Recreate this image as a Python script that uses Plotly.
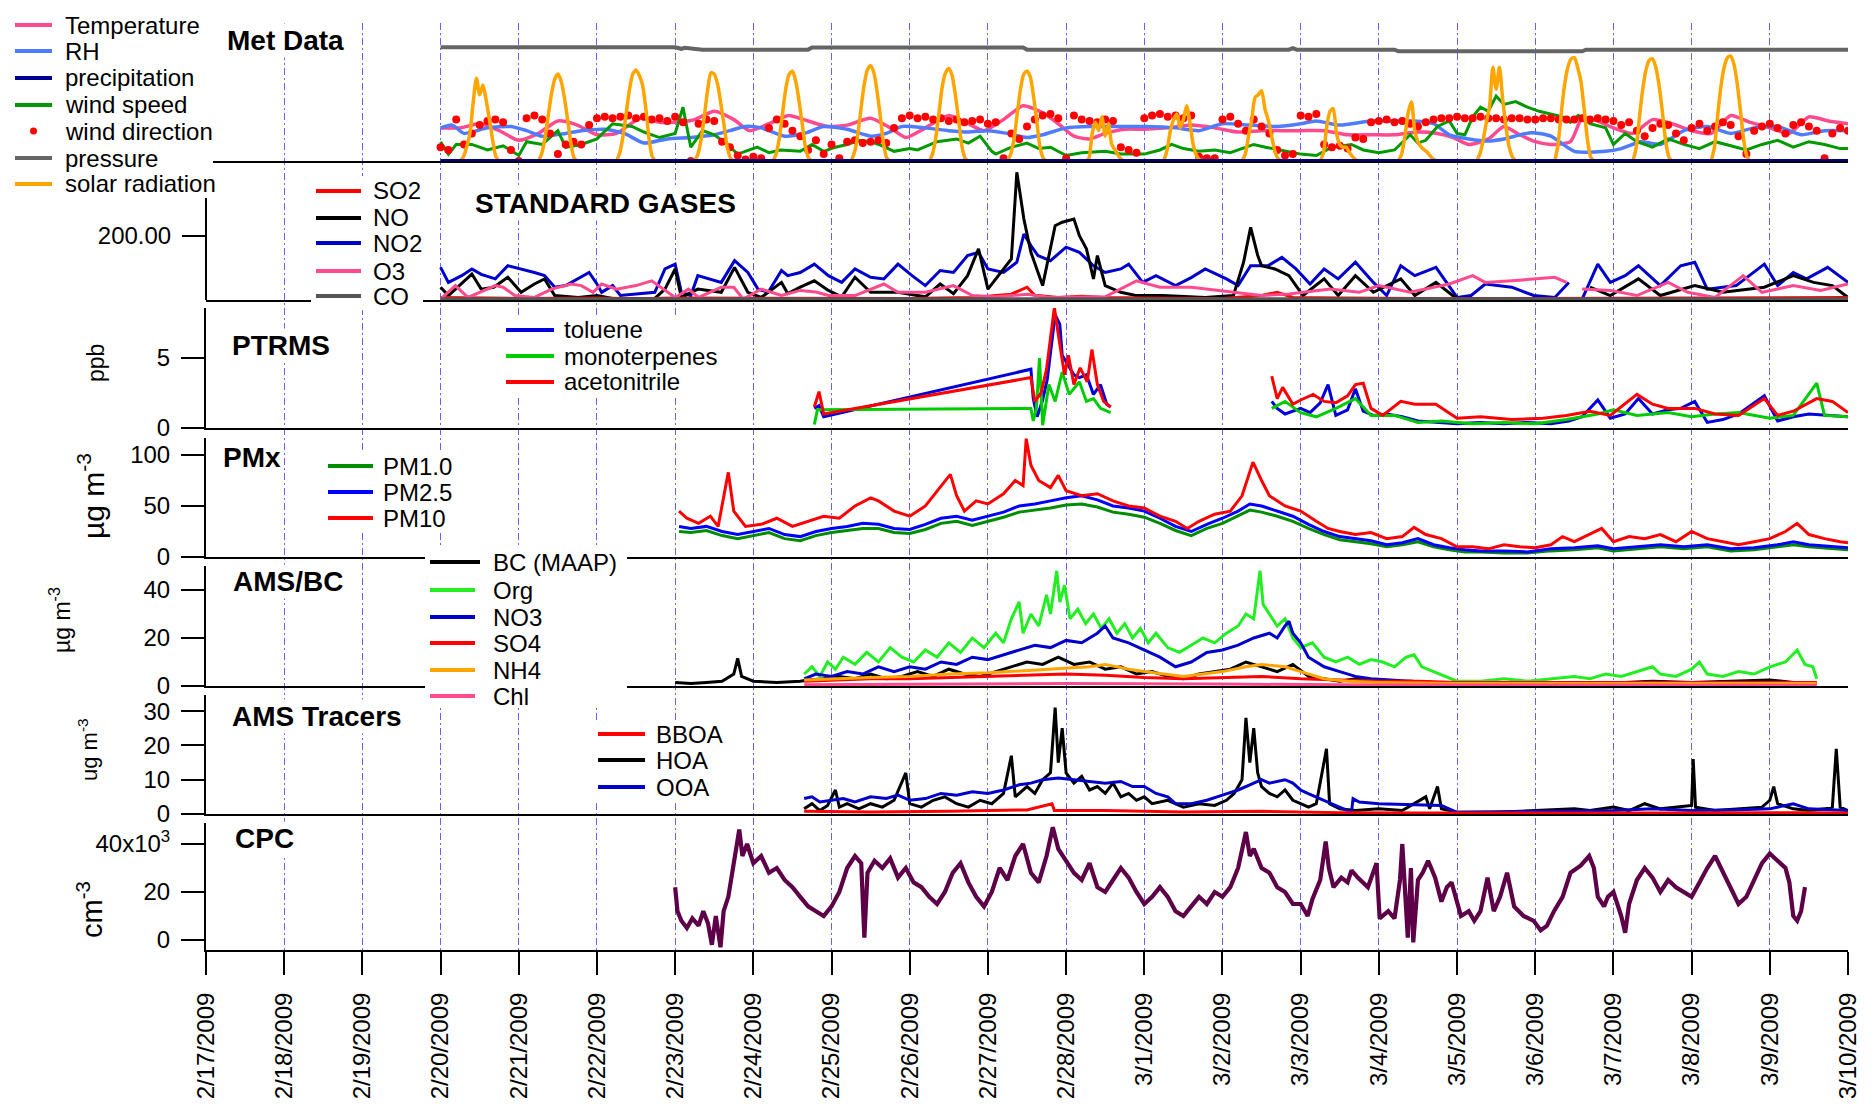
import pandas as pd
import plotly.graph_objects as go

W, H = 1874, 1113
BASE = pd.Timestamp("2009-02-17")
FONT = "Liberation Sans, Arial, sans-serif"

# ---------------- data: (day offset from 2/17/2009 00:00, value) ----------------
# Met Data panel (relative panel units 0-100)
temperature = [(3.0,24),(3.25,24),(3.5,27),(3.75,22),(4.0,15),(4.25,20),(4.5,29),(4.75,26),(5.0,19),(5.25,20),
    (5.55,31),(5.8,28),(6.0,28),(6.25,30),(6.5,36),(6.75,30),(6.95,22),(7.2,27),(7.45,33),(7.7,29),(7.95,25),
    (8.2,26),(8.5,31),(8.75,24),(8.95,17),(9.2,24),(9.5,33),(9.75,27),(9.95,22),(10.2,30),(10.45,40),(10.7,35),
    (10.9,27),(11.1,18),(11.3,16),(11.5,20),(11.75,23),(12.0,23),(12.3,24),(12.6,26),(12.9,24),(13.2,21),
    (13.5,22),(13.75,22),(14.0,22),(14.3,22),(14.6,19),(14.9,19),(15.2,19),(15.5,21),(15.75,20),(15.95,17),
    (16.15,12),(16.4,16),(16.6,25),(16.8,19),(17.0,14),(17.2,12),(17.45,14),(17.6,31),(17.8,29),(18.0,24),
    (18.25,20),(18.5,30),(18.75,27),(19.0,22),(19.25,20),(19.5,33),(19.75,28),(20.0,24),(20.25,20),(20.5,32),
    (20.75,29),(21.0,27)]
rh = [(3.0,24),(3.15,26),(3.3,20),(3.6,24),(3.9,25),(4.1,22),(4.3,18),(4.6,20),(4.8,22),(5.1,23),(5.35,20),
    (5.6,13),(5.9,16),(6.2,17),(6.5,19),(6.7,22),(6.9,25),(7.1,24),(7.4,18),(7.65,20),(7.9,25),(8.2,23),(8.5,18),
    (8.7,20),(8.9,25),(9.2,24),(9.5,22),(9.75,21),(10.0,22),(10.25,20),(10.5,17),(10.7,19),(11.0,24),(11.3,25),
    (11.7,25),(12.0,25),(12.4,24),(12.7,22),(13.0,27),(13.35,26),(13.7,25),(14.0,27),(14.2,29),(14.5,26),
    (14.9,29),(15.2,29),(15.45,29),(15.7,27),(15.9,19),(16.15,16),(16.4,14.5),(16.6,16),(16.95,20.5),(17.2,18),
    (17.5,7),(17.9,7),(18.1,9),(18.35,14),(18.6,12),(18.9,22),(19.2,25),(19.5,20),(19.8,24),(20.1,25),(20.4,19),
    (20.7,22),(21.0,22)]
precipitation = [(3,0),(6,0),(9,0),(12,0),(15,0),(18,0),(21,0)]
wind_speed = [(3.0,14),(3.1,5),(3.2,12),(3.4,12),(3.6,8),(3.8,11),(4.0,4),(4.1,14),(4.3,12),(4.5,22),(4.6,10),
    (4.8,12),(5.0,16),(5.2,27),(5.45,25),(5.6,21),(5.8,17),(6.0,20),(6.1,39),(6.2,10),(6.35,22),(6.5,19),(6.65,13),
    (6.8,5),(7.05,10),(7.2,6),(7.35,8),(7.6,7),(7.75,12),(7.9,7),(8.05,10),(8.2,12),(8.35,15),(8.5,14),(8.65,11),
    (8.8,7),(9.0,9),(9.1,8),(9.35,14),(9.6,16),(9.75,13),(9.9,18),(10.05,7),(10.1,5),(10.3,10),(10.5,13),
    (10.65,9),(10.8,10),(11.0,4),(11.2,6),(11.5,7),(11.7,5),(12.0,5),(12.2,8),(12.35,12),(12.5,9),(12.7,7),
    (12.9,8),(13.1,6),(13.25,9),(13.4,12),(13.55,10),(13.8,7),(14.0,5),(14.2,4),(14.4,10),(14.65,12),(14.8,8),
    (15.0,6),(15.2,8),(15.4,19),(15.5,13),(15.6,15),(15.75,25),(15.9,29),(16.0,20),(16.1,19),(16.2,32),(16.3,39),
    (16.4,36),(16.5,47),(16.6,41),(16.75,43),(16.9,39),(17.05,36),(17.2,34),(17.35,32),(17.45,28),(17.55,33),
    (17.7,27),(17.9,24),(18.0,12),(18.15,20),(18.3,14),(18.5,10),(18.7,16),(18.9,12),(19.1,9),(19.3,14),
    (19.5,11),(19.7,8),(19.9,12),(20.1,15),(20.3,10),(20.5,14),(20.7,12),(20.9,9),(21.0,9)]
# wind direction, one reading every 0.1 day starting 2/20 00:00
wind_dir_start = 3.0
wind_direction = [10,8,30,12,20,26,29,30,28,8, 0,31,33,30,20,5,12,14,12,26, 31,32,31,32,33,31,32,30,31,29,
    32,28,0,27,30,29,14,10,4,1, 3,2,24,30,27,22,18,8,15,5, 12,2,14,15,13,14,15,13,24,31, 33,31,32,30,31,29,30,28,29,30,
    27,28,2,20,16,25,30,33,34,31, 2,33,30,29,28,30,29,10,8,6, 31,33,34,32,33,31,33,3,2,2, 30,32,27,22,30,25,20,8,4,5,
    33,32,34,12,10,11,9,17,16,28, 29,30,28,29,27,25,28,30,31,31, 32,31,31,32,31,31,30,31,31,30, 30,31,31,30,30,30,31,30,31,30,
    29,26,28,22,18,24,27,26,20,15, 24,27,22,25,28,26,18,5,22,25, 27,24,20,26,28,25,22,2,20,24, 22]
pressure = [(3.0,82.4),(6.0,82.4),(6.08,81.3),(6.12,82.0),(6.35,80.7),(7.7,80.7),(7.75,82.2),(10.45,82.2),
    (10.5,80.7),(13.85,80.7),(13.9,81.8),(13.95,80.7),(15.2,80.7),(15.25,79.5),(17.6,79.5),(17.65,80.7),(21.0,80.7)]
# solar radiation, hourly 06:00-18:00 for each day from 2/20 to 3/8
solar_first_day = 3
solar_radiation = [
    [0,3,10,20,42,60,48,55,44,30,15,3,0],
    [0,5,16,32,48,59,63,58,46,30,13,2,0],
    [0,6,18,35,52,63,66,62,55,38,16,3,0],
    [0,5,16,33,52,64,63,56,42,26,10,2,0],
    [0,5,17,35,53,63,65,58,44,27,10,2,0],
    [0,6,18,37,55,66,69,64,50,32,12,2,0],
    [0,5,17,35,54,64,67,62,48,30,11,2,0],
    [0,5,16,34,52,63,65,61,47,29,10,2,0],
    [0,2,20,28,22,32,18,27,12,8,4,1,0],
    [0,8,22,30,34,24,30,40,28,12,4,1,0],
    [0,5,18,30,46,48,51,38,30,19,8,2,0],
    [0,6,25,36,38,20,12,10,10,6,3,1,0],
    [0,5,18,35,43,22,14,10,8,6,3,1,0],
    [0,5,15,28,40,68,52,68,45,25,10,3,0],
    [0,12,35,55,68,74,75,68,58,38,16,3,0],
    [0,10,32,52,66,73,74,68,55,36,15,3,0],
    [0,10,33,54,68,75,76,70,56,36,15,3,0]]

# Standard gases (ppb)
so2 = [(3.0,8),(4.0,5),(5.0,6),(5.5,4),(6.0,6),(7.0,5),(8.0,6),(9.0,5),(9.8,8),(10.3,18),(10.5,40),(10.6,15),
    (10.9,8),(11.2,12),(11.5,8),(12.0,6),(13.0,5),(13.5,14),(13.7,24),(13.9,8),(14.5,6),(15.0,5),(16.0,4),
    (17.0,5),(18.0,6),(19.0,5),(20.0,6),(21.0,8)]
no = [(3.0,40),(3.1,14),(3.4,81),(3.52,34),(3.68,40),(3.86,71),(4.03,24),(4.2,50),(4.33,66),(4.46,14),(4.76,8),
    (5.0,14),(5.2,5),(5.5,5),(5.74,5),(5.87,34),(6.0,97),(6.08,8),(6.29,34),(6.59,24),(6.76,102),(6.93,24),
    (7.1,8),(7.36,55),(7.44,20),(7.6,40),(7.78,60),(7.96,30),(8.13,10),(8.3,71),(8.5,24),(8.85,24),(9.2,10),
    (9.39,50),(9.56,20),(9.74,76),(9.88,160),(10.0,34),(10.2,97),(10.3,128),(10.37,399),(10.46,253),(10.55,149),
    (10.7,45),(10.86,232),(10.95,243),(11.1,253),(11.17,201),(11.26,160),(11.35,66),(11.4,139),(11.5,45),
    (11.7,24),(11.89,14),(12.24,14),(12.78,8),(13.14,14),(13.27,118),(13.36,227),(13.45,140),(13.5,107),
    (13.67,97),(13.85,76),(14.03,14),(14.3,66),(14.48,14),(14.7,76),(14.93,24),(15.28,66),(15.46,14),(15.73,55),
    (16.0,3),(16.5,5),(17.0,5),(17.4,5),(17.5,None),(17.7,40),(17.96,14),(18.32,66),(18.6,14),(19.04,45),
    (19.4,24),(19.93,40),(20.3,76),(20.56,55),(20.8,45),(21.0,8)]
no2 = [(3.0,102),(3.1,55),(3.27,76),(3.4,97),(3.52,80),(3.7,66),(3.86,107),(4.03,97),(4.2,86),(4.33,76),(4.46,40),
    (4.6,45),(4.76,66),(4.9,86),(5.0,50),(5.06,24),(5.2,45),(5.3,14),(5.5,19),(5.74,24),(5.87,97),(6.0,112),
    (6.08,24),(6.2,14),(6.29,76),(6.42,66),(6.59,55),(6.76,123),(6.93,86),(7.06,34),(7.19,24),(7.36,92),(7.44,76),
    (7.6,86),(7.78,112),(7.96,76),(8.13,55),(8.3,97),(8.5,71),(8.67,66),(8.85,112),(9.03,76),(9.2,45),(9.39,92),
    (9.56,86),(9.74,139),(9.88,149),(10.0,97),(10.2,86),(10.37,118),(10.46,206),(10.55,170),(10.64,139),
    (10.8,123),(11.0,165),(11.17,149),(11.35,107),(11.5,86),(11.7,97),(11.8,112),(11.98,55),(12.15,76),(12.4,45),
    (12.6,70),(12.78,97),(13.05,66),(13.2,45),(13.36,107),(13.58,107),(13.76,133),(13.94,97),(14.12,50),(14.3,97),
    (14.48,66),(14.7,118),(14.93,55),(15.1,14),(15.28,107),(15.46,76),(15.73,102),(16.0,8),(16.18,14),(16.36,50),
    (16.7,40),(16.98,14),(17.25,8),(17.43,55),(17.5,None),(17.56,5),(17.6,3),(17.8,112),(17.96,55),(18.15,76),
    (18.32,107),(18.6,45),(18.86,107),(19.04,118),(19.2,34),(19.57,45),(19.93,112),(20.1,45),(20.3,86),
    (20.47,66),(20.74,102),(21.0,55)]
o3 = [(3.0,3),(3.19,45),(3.35,8),(3.5,24),(3.7,45),(3.8,40),(3.95,14),(4.2,8),(4.42,34),(4.67,50),(4.8,45),
    (4.95,24),(5.06,50),(5.25,34),(5.5,45),(5.7,60),(5.85,34),(6.0,8),(6.17,34),(6.3,8),(6.59,40),(6.75,40),
    (6.87,3),(7.1,34),(7.36,14),(7.5,24),(7.6,30),(7.8,25),(7.96,14),(8.3,14),(8.67,50),(8.85,24),(9.2,24),
    (9.56,45),(9.8,14),(10.1,10),(10.5,18),(10.8,8),(11.5,10),(11.9,60),(12.2,40),(12.6,40),(12.96,30),(13.5,14),
    (13.85,19),(14.38,34),(14.75,24),(15.0,45),(15.4,24),(15.9,50),(16.2,76),(16.36,55),(16.7,60),(17.06,68),
    (17.25,71),(17.4,55),(17.5,None),(17.6,34),(17.96,30),(18.3,14),(18.7,55),(18.95,24),(19.3,8),(19.66,76),
    (19.9,24),(20.3,45),(20.65,30),(21.0,50)]
co = [(3,2),(7,2),(11,2),(15,2),(19,2),(21,2)]

# PTRMS (ppb)
toluene = [(7.78,1.4),(7.84,1.6),(7.9,0.8),(10.55,4.2),(10.58,2.1),(10.63,0.8),(10.7,2.0),(10.76,3.5),(10.86,8.1),
    (10.92,7.4),(10.95,5.2),(11.04,4.3),(11.1,3.8),(11.17,3.6),(11.26,3.8),(11.35,2.4),(11.44,3.1),(11.52,1.7),
    (11.57,1.5),(12.5,None),(13.63,1.9),(13.7,1.4),(13.8,1.0),(13.9,1.2),(14.0,1.4),(14.12,1.1),(14.25,1.8),
    (14.35,3.1),(14.45,0.9),(14.6,1.3),(14.7,2.8),(14.8,1.2),(14.93,0.9),(15.1,1.0),(15.3,0.8),(15.5,0.5),
    (15.73,0.4),(16.0,0.3),(16.3,0.4),(16.6,0.3),(16.9,0.4),(17.2,0.3),(17.43,0.5),(17.6,0.8),(17.8,2.0),
    (17.96,0.7),(18.15,1.0),(18.32,2.1),(18.5,1.0),(18.7,1.3),(18.86,1.4),(19.04,1.9),(19.2,0.4),(19.4,0.6),
    (19.6,1.0),(19.93,2.3),(20.1,0.5),(20.3,0.8),(20.5,1.0),(20.74,0.9),(21.0,0.8)]
monoterpenes = [(7.78,0.25),(7.82,1.3),(10.55,1.4),(10.58,0.5),(10.62,1.4),(10.66,5.0),(10.7,0.2),(10.78,3.1),
    (10.86,1.9),(10.95,4.0),(11.04,2.4),(11.17,3.3),(11.26,1.9),(11.35,2.1),(11.44,1.4),(11.57,1.1),(12.5,None),
    (13.63,1.4),(13.8,1.9),(14.0,1.1),(14.2,0.8),(14.45,1.4),(14.7,2.1),(14.9,0.9),(15.2,0.9),(15.5,0.4),
    (15.8,0.5),(16.2,0.3),(16.6,0.4),(17.0,0.3),(17.4,0.6),(17.8,1.0),(18.0,1.3),(18.3,0.9),(18.7,1.1),(19.0,0.8),
    (19.3,1.0),(19.6,1.1),(20.0,0.7),(20.3,0.9),(20.6,3.2),(20.7,0.9),(21.0,0.8)]
acetonitrile = [(7.78,1.5),(7.84,2.6),(7.9,1.0),(10.55,3.6),(10.6,1.9),(10.68,2.5),(10.75,4.2),(10.85,8.6),
    (10.9,6.7),(10.98,3.8),(11.03,5.2),(11.1,3.1),(11.18,4.3),(11.27,3.3),(11.33,5.6),(11.4,3.1),(11.48,1.9),
    (11.57,1.5),(12.5,None),(13.63,3.7),(13.7,2.1),(13.77,2.9),(13.9,1.7),(14.0,2.0),(14.16,2.4),(14.3,1.9),
    (14.45,1.8),(14.6,2.3),(14.7,3.1),(14.8,3.2),(14.9,1.4),(15.05,0.9),(15.28,1.9),(15.46,1.7),(15.73,1.7),
    (16.0,0.7),(16.3,0.8),(16.7,0.6),(17.1,0.7),(17.4,0.9),(17.7,1.2),(17.96,0.9),(18.3,2.4),(18.5,1.7),(18.7,1.4),
    (19.04,1.4),(19.3,1.0),(19.6,0.9),(19.93,2.1),(20.1,0.9),(20.3,1.2),(20.6,2.1),(20.8,1.9),(21.0,1.1)]

# PMx (ug m-3)
pm1 = [(6.05,25),(6.2,24),(6.4,26),(6.6,21),(6.8,18),(7.0,21),(7.2,24),(7.4,18),(7.6,16),(7.8,21),(8.0,24),(8.2,26),
    (8.4,28),(8.6,28),(8.8,24),(9.0,23),(9.2,27),(9.4,33),(9.6,35),(9.8,31),(10.0,35),(10.2,39),(10.4,44),(10.6,46),
    (10.8,48),(11.0,51),(11.2,52),(11.4,49),(11.6,44),(11.8,42),(12.0,39),(12.2,33),(12.4,26),(12.6,21),(12.8,28),
    (13.0,33),(13.2,40),(13.35,46),(13.5,44),(13.7,40),(13.9,35),(14.1,28),(14.3,22),(14.5,17),(14.7,15),(14.9,13),
    (15.1,10),(15.3,12),(15.5,15),(15.7,10),(15.9,7),(16.1,5),(16.3,5),(16.6,4),(16.9,4),(17.2,6),(17.5,7),(17.8,9),
    (18.0,6),(18.3,8),(18.6,10),(18.9,8),(19.2,10),(19.5,6),(19.8,7),(20.1,10),(20.3,12),(20.5,10),(20.8,8),(21.0,7)]
pm25 = [(6.05,30),(6.2,28),(6.4,30),(6.6,25),(6.8,22),(7.0,25),(7.2,28),(7.4,22),(7.6,20),(7.8,25),(8.0,28),(8.2,30),
    (8.4,33),(8.6,32),(8.8,28),(9.0,27),(9.2,32),(9.4,38),(9.6,40),(9.8,36),(10.0,40),(10.2,44),(10.4,50),(10.6,52),
    (10.8,55),(11.0,58),(11.2,60),(11.4,56),(11.6,50),(11.8,48),(12.0,45),(12.2,38),(12.4,30),(12.6,25),(12.8,32),
    (13.0,38),(13.2,45),(13.35,52),(13.5,50),(13.7,45),(13.9,40),(14.1,32),(14.3,25),(14.5,20),(14.7,18),(14.9,16),
    (15.1,12),(15.3,14),(15.5,18),(15.7,12),(15.9,9),(16.1,7),(16.3,6),(16.6,6),(16.9,5),(17.2,8),(17.5,9),(17.8,11),
    (18.0,8),(18.3,10),(18.6,12),(18.9,10),(19.2,12),(19.5,8),(19.8,9),(20.1,12),(20.3,15),(20.5,12),(20.8,10),(21.0,9)]
pm10 = [(6.05,45),(6.15,38),(6.3,33),(6.45,40),(6.55,30),(6.68,83),(6.75,45),(6.9,30),(7.1,32),(7.3,38),(7.5,30),
    (7.7,35),(7.9,40),(8.1,38),(8.3,50),(8.5,58),(8.6,55),(8.8,45),(9.0,40),(9.2,50),(9.35,65),(9.52,81),(9.6,60),
    (9.7,45),(9.85,55),(10.0,52),(10.2,62),(10.35,75),(10.45,70),(10.49,116),(10.55,90),(10.65,75),(10.8,68),
    (10.9,80),(11.0,65),(11.2,60),(11.4,62),(11.6,55),(11.8,50),(12.0,48),(12.2,40),(12.4,35),(12.55,28),(12.7,35),
    (12.9,42),(13.1,45),(13.25,60),(13.39,93),(13.5,75),(13.6,60),(13.8,50),(14.0,45),(14.2,35),(14.35,28),
    (14.5,25),(14.7,22),(14.9,24),(15.1,18),(15.3,20),(15.45,29),(15.6,22),(15.8,18),(16.0,10),(16.2,10),(16.4,8),
    (16.6,12),(16.8,10),(17.0,9),(17.2,12),(17.35,20),(17.5,15),(17.7,22),(17.85,28),(18.0,15),(18.2,20),(18.4,18),
    (18.6,22),(18.8,15),(19.0,25),(19.2,18),(19.4,15),(19.6,12),(19.8,15),(20.0,18),(20.2,25),(20.35,33),(20.5,22),
    (20.7,18),(20.9,15),(21.0,14)]

# AMS/BC (ug m-3)
bc = [(6.0,1.5),(6.2,1.0),(6.4,1.5),(6.6,2.0),(6.75,5.0),(6.8,11.5),(6.85,4),(7.0,2),(7.3,1.5),(7.6,2),(7.7,2.5),
    (7.9,3),(8.1,4),(8.3,3),(8.5,5),(8.7,3),(8.9,4),(9.1,6),(9.3,4),(9.5,7),(9.7,5),(9.9,4),(10.1,6),(10.3,8),
    (10.5,10),(10.7,9),(10.9,12),(11.1,9),(11.3,10),(11.5,7),(11.7,8),(11.9,5),(12.1,6),(12.3,4),(12.5,3),(12.7,5),
    (12.9,6),(13.1,7),(13.3,10),(13.5,8),(13.7,6),(13.9,9),(14.1,4),(14.3,3),(14.5,2),(14.7,3),(14.9,2),(15.1,1.5),
    (15.4,2),(15.7,1.5),(16.0,1),(16.5,1),(17.0,1.2),(17.5,1.5),(18.0,1.2),(18.5,2),(19.0,1.5),(19.5,2),(20.0,2.5),
    (20.3,1.5),(20.6,1.2)]
org = [(7.65,5),(7.75,8),(7.85,4),(7.95,10),(8.05,7),(8.15,12),(8.3,9),(8.45,14),(8.6,10),(8.75,16),(8.9,12),
    (9.05,10),(9.2,15),(9.35,12),(9.5,18),(9.65,14),(9.8,20),(9.95,16),(10.1,22),(10.2,18),(10.3,28),(10.4,35),
    (10.45,22),(10.55,30),(10.65,25),(10.75,38),(10.8,30),(10.88,48),(10.92,35),(10.98,42),(11.05,28),(11.15,32),
    (11.25,26),(11.35,30),(11.45,24),(11.55,28),(11.65,22),(11.75,26),(11.85,20),(11.95,24),(12.05,18),(12.15,22),
    (12.3,16),(12.45,14),(12.6,17),(12.75,20),(12.9,18),(13.05,22),(13.2,25),(13.3,30),(13.4,28),(13.48,48),
    (13.52,34),(13.6,30),(13.7,25),(13.8,28),(13.9,20),(14.0,16),(14.15,18),(14.3,12),(14.45,10),(14.6,12),
    (14.75,9),(14.9,11),(15.05,10),(15.2,8),(15.35,12),(15.45,13),(15.55,8),(15.7,6),(15.85,4),(16.0,2),(16.3,2),
    (16.6,3),(16.9,2),(17.2,3),(17.5,4),(17.7,3),(17.9,5),(18.1,4),(18.3,6),(18.5,8),(18.6,5),(18.8,4),(19.0,7),
    (19.1,10),(19.2,5),(19.4,4),(19.6,6),(19.8,5),(20.0,8),(20.2,10),(20.35,15),(20.45,9),(20.55,8),(20.6,3)]
no3 = [(7.65,3),(7.8,5),(8.0,4),(8.2,6),(8.4,5),(8.6,8),(8.8,6),(9.0,8),(9.2,7),(9.4,10),(9.6,9),(9.8,12),(10.0,11),
    (10.2,13),(10.4,15),(10.6,17),(10.8,16),(11.0,19),(11.2,18),(11.4,22),(11.5,25),(11.6,20),(11.8,18),(12.0,15),
    (12.2,12),(12.4,8),(12.6,10),(12.8,14),(13.0,15),(13.2,17),(13.4,20),(13.6,22),(13.7,20),(13.8,25),(13.85,27),
    (13.9,22),(14.0,18),(14.1,12),(14.3,8),(14.5,6),(14.7,4),(14.9,3),(15.1,2.5),(15.4,2),(15.7,1.5),(16.0,1),
    (17.0,1),(18.0,1),(19.0,1.2),(20.0,1.2),(20.6,1)]
so4 = [(7.65,2),(8.0,2.5),(8.5,3),(9.0,3),(9.5,3.5),(10.0,4),(10.5,4.5),(11.0,5),(11.5,4.5),(12.0,3.5),(12.5,3),
    (13.0,3.5),(13.5,4),(14.0,3),(14.5,2.5),(15.0,2),(15.5,2),(16.0,1.5),(17.0,1.5),(18.0,1.5),(19.0,1.8),(20.0,1.8),
    (20.6,1.5)]
nh4 = [(7.65,2.5),(8.0,3),(8.5,3.5),(9.0,4),(9.5,5),(10.0,5.5),(10.5,6.5),(11.0,7.5),(11.3,8),(11.5,9),(11.8,7),
    (12.0,6),(12.5,4),(13.0,6),(13.3,8),(13.5,9),(13.8,8),(14.0,6),(14.3,3),(14.6,2),(15.0,1.5),(15.5,1.2),(16.0,1),
    (17.0,1),(18.0,1),(19.0,1),(20.0,1.2),(20.6,1)]
chl = [(7.65,0.5),(10.0,0.8),(11.0,1.0),(13.0,0.8),(15.0,0.4),(20.6,0.3)]

# AMS tracers (ug m-3)
bboa = [(7.65,0.8),(8.5,0.6),(9.5,0.8),(10.5,1.2),(10.82,3),(10.85,1),(11.5,1),(12.5,0.6),(13.5,0.8),(14.5,0.4),
    (15.5,0.3),(16.5,0.2),(17.5,0.3),(18.5,0.3),(19.5,0.4),(20.5,0.4),(21.0,0.3)]
hoa = [(7.65,1.5),(7.75,3),(7.85,1),(7.95,2.5),(8.05,7),(8.1,2),(8.2,3),(8.35,1.5),(8.5,3),(8.65,2),(8.8,4),
    (8.95,12),(9.0,3),(9.15,2),(9.3,4),(9.45,5),(9.6,3),(9.75,2),(9.9,4),(10.05,3),(10.2,6),(10.3,17),(10.35,5),
    (10.5,8),(10.6,6),(10.7,10),(10.8,12),(10.86,31),(10.9,15),(10.95,25),(11.0,12),(11.1,9),(11.2,11),(11.3,7),
    (11.4,8),(11.5,6),(11.6,9),(11.7,5),(11.8,6),(11.9,4),(12.0,5),(12.1,3),(12.3,4),(12.5,2),(12.7,3),(12.9,2.5),
    (13.05,4),(13.15,6),(13.25,10),(13.3,28),(13.35,15),(13.4,25),(13.45,12),(13.5,8),(13.6,6),(13.7,5),(13.8,7),
    (13.9,4),(14.0,3),(14.1,2),(14.2,3),(14.33,19),(14.37,3),(14.5,1.5),(14.7,1),(15.0,1.5),(15.3,1),(15.6,5),
    (15.65,1.5),(15.75,8),(15.8,1.5),(16.0,0.5),(16.5,0.5),(17.0,1),(17.5,1.5),(17.7,1),(18.0,2),(18.2,1),(18.4,3),
    (18.6,1.5),(18.8,2),(19.0,2.5),(19.02,16),(19.05,2),(19.3,1),(19.6,1.5),(19.9,2),(20.0,4),(20.05,8),(20.1,3),
    (20.3,1.5),(20.5,1),(20.7,1.5),(20.8,2),(20.85,19),(20.9,2),(21.0,1)]
ooa = [(7.65,4.5),(7.75,5),(7.85,3.5),(8.0,4),(8.15,4.5),(8.3,3.5),(8.5,5),(8.7,4.5),(8.85,5.5),(9.0,4),(9.2,4.5),
    (9.4,6),(9.6,5.5),(9.8,6.5),(10.0,6),(10.2,7),(10.4,8.5),(10.55,9),(10.7,10),(10.9,10.5),(11.1,10),(11.3,9.5),
    (11.5,9),(11.7,9.5),(11.85,8),(12.0,8),(12.15,6),(12.3,5),(12.4,3),(12.6,3),(12.8,4),(13.0,5.5),(13.2,7),
    (13.35,8.5),(13.5,10),(13.6,9),(13.8,10),(13.9,9),(14.0,7),(14.09,6),(14.14,5.5),(14.65,0.5),(14.67,4.5),
    (14.75,3.5),(15.0,3.0),(15.3,2.8),(15.6,2.6),(15.8,2.5),(16.0,0.5),(16.5,0.6),(17.0,0.7),(17.5,0.8),(18.0,1),
    (18.5,1.5),(19.0,1),(19.5,1.2),(20.0,1.5),(20.3,3),(20.5,1.5),(21.0,1)]

# CPC (10^3 cm-3)
cpc = [(6.0,22),(6.03,12),(6.08,8),(6.15,5),(6.22,9),(6.3,6),(6.36,12),(6.42,7),(6.47,-2),(6.52,10),(6.58,-3),
    (6.62,12),(6.68,18),(6.74,30),(6.78,38),(6.82,46),(6.86,35),(6.92,40),(7.0,32),(7.1,35),(7.2,28),(7.3,30),
    (7.4,25),(7.5,22),(7.6,18),(7.7,14),(7.8,12),(7.9,10),(8.0,14),(8.1,20),(8.2,30),(8.3,35),(8.38,32),(8.42,1),
    (8.46,28),(8.55,33),(8.65,30),(8.75,34),(8.85,26),(8.95,30),(9.05,24),(9.15,22),(9.25,18),(9.35,15),(9.45,20),
    (9.55,28),(9.65,32),(9.75,24),(9.85,18),(9.95,14),(10.05,20),(10.15,30),(10.25,25),(10.35,35),(10.45,40),
    (10.55,28),(10.65,24),(10.75,35),(10.83,47),(10.9,38),(11.0,33),(11.1,28),(11.2,25),(11.3,32),(11.4,22),
    (11.5,20),(11.6,25),(11.7,30),(11.8,26),(11.9,20),(12.0,15),(12.1,18),(12.2,22),(12.3,18),(12.4,12),(12.5,10),
    (12.6,14),(12.7,18),(12.8,15),(12.9,20),(13.0,18),(13.1,22),(13.2,30),(13.3,45),(13.35,35),(13.4,38),(13.5,30),
    (13.6,28),(13.7,22),(13.8,20),(13.9,15),(14.0,15),(14.09,10),(14.15,17),(14.25,25),(14.32,41),(14.36,30),
    (14.42,22),(14.52,26),(14.6,24),(14.65,29),(14.73,26),(14.86,22),(14.97,32),(15.01,9),(15.12,12),(15.2,9),
    (15.27,25),(15.3,40),(15.34,20),(15.37,1),(15.41,30),(15.44,-1),(15.5,25),(15.56,28),(15.63,33),(15.72,26),
    (15.8,16),(15.87,22),(15.93,24),(16.0,15),(16.05,10),(16.15,12),(16.22,8),(16.3,12),(16.39,26),(16.47,12),
    (16.55,18),(16.64,28),(16.73,14),(16.85,10),(16.98,8),(17.07,4),(17.15,6),(17.24,12),(17.35,18),(17.45,28),
    (17.58,31),(17.69,35),(17.75,30),(17.8,18),(17.88,14),(17.93,18),(18.0,20),(18.1,10),(18.15,3),(18.2,15),
    (18.3,25),(18.4,30),(18.5,26),(18.6,20),(18.7,25),(18.8,22),(18.9,20),(19.0,18),(19.1,24),(19.2,30),(19.3,35),
    (19.4,28),(19.5,22),(19.6,15),(19.7,18),(19.8,25),(19.9,32),(20.0,36),(20.1,33),(20.2,30),(20.25,24),(20.3,10),
    (20.35,8),(20.4,12),(20.45,22)]

day_ticks = list(range(0, 22))

# ---------------- helpers ----------------
def px(x):
    return x / W

def py(y):
    return 1 - y / H

def to_dates(days):
    return [BASE + pd.Timedelta(days=d) for d in days]

fig = go.Figure()

def add_line(pairs, color, width, axis, shape="linear", smoothing=None):
    xs = to_dates([p[0] for p in pairs])
    ys = [p[1] for p in pairs]
    ln = dict(color=color, width=width, shape=shape)
    if smoothing is not None:
        ln["smoothing"] = smoothing
    fig.add_trace(go.Scatter(x=xs, y=ys, mode="lines", line=ln, xaxis="x" + axis, yaxis="y" + axis,
                             showlegend=False, hoverinfo="skip", connectgaps=False))

# colours
C_PINK = "#ff4a8d"
C_LBLUE = "#4f7cff"
C_NAVY = "#00008f"
C_GREEN = "#009a00"
C_RED = "#ff0000"
C_GRAY = "#646464"
C_ORANGE = "#ffa500"
C_BLUE = "#0000cc"
C_LIME = "#22ee22"
C_MONO = "#00cc00"
C_CPC = "#5e0048"

# grid background subplot
fig.add_trace(go.Scatter(x=[], y=[], xaxis="x", yaxis="y", showlegend=False, hoverinfo="skip"))

# Met panel (axis 8)
add_line(temperature, C_PINK, 3.5, "8", "spline", 0.6)
add_line(rh, C_LBLUE, 3.5, "8", "spline", 0.6)
add_line(wind_speed, C_GREEN, 3, "8")
wd_days = [wind_dir_start + 0.1 * i for i in range(len(wind_direction))]
fig.add_trace(go.Scatter(x=to_dates(wd_days), y=wind_direction, mode="markers",
                         marker=dict(color=C_RED, size=8), xaxis="x8", yaxis="y8",
                         showlegend=False, hoverinfo="skip"))
add_line(pressure, C_GRAY, 4, "8")
sol_pairs = []
for i, day_vals in enumerate(solar_radiation):
    for h, v in enumerate(day_vals):
        sol_pairs.append((solar_first_day + i + (6 + h) / 24.0, v))
    sol_pairs.append((solar_first_day + i + 20 / 24.0, None))
add_line(sol_pairs, C_ORANGE, 3.5, "8", "spline", 0.7)
add_line(precipitation, C_NAVY, 4, "8")

# Gases (axis 7)
add_line(no2, C_BLUE, 3, "7")
add_line(no, "black", 3, "7")
add_line(so2, C_RED, 3, "7")
add_line(o3, C_PINK, 3, "7")
add_line(co, "#555555", 4, "7")

# PTRMS (axis 6)
add_line(toluene, "#0000dd", 3, "6")
add_line(monoterpenes, C_MONO, 3, "6")
add_line(acetonitrile, C_RED, 3, "6")

# PMx (axis 5)
add_line(pm1, "#008c00", 3, "5")
add_line(pm25, "#0000ff", 3, "5")
add_line(pm10, C_RED, 3, "5")

# AMS/BC (axis 4)
add_line(bc, "black", 3, "4")
add_line(org, C_LIME, 3, "4")
add_line(no3, C_BLUE, 3, "4")
add_line(so4, C_RED, 3, "4")
add_line(nh4, C_ORANGE, 3, "4")
add_line(chl, C_PINK, 3, "4")

# AMS tracers (axis 3)
add_line(hoa, "black", 3, "3")
add_line(ooa, C_BLUE, 3, "3")
add_line(bboa, C_RED, 3, "3")

# CPC (axis 2)
add_line(cpc, C_CPC, 4.2, "2")

# ---------------- axes ----------------
XDOM = [px(198), px(1840)]
XR = ["2009-02-17", "2009-03-10"]
layout = {}
layout["xaxis"] = dict(domain=XDOM, range=XR, type="date", anchor="y", showgrid=True,
                       gridcolor="rgba(70,70,255,0.85)", griddash="7px,3px,2px,3px", gridwidth=1.2,
                       tickmode="array", tickvals=to_dates(day_ticks), ticks="", showticklabels=False,
                       showline=False, zeroline=False)
layout["yaxis"] = dict(domain=[py(942), py(15)], range=[0, 1], visible=False)

panels = {
    "2": dict(top=815, bot=942, rng=[-(942 - 932) / 2.4, (932 - 815) / 2.4], tv=[0, 20, 40],
              tt=["0", "20", "40x10<sup>3</sup>"]),
    "3": dict(top=687, bot=806, rng=[0, (806 - 687) / 3.43], tv=[0, 10, 20, 30], tt=None),
    "4": dict(top=558, bot=678, rng=[0, 50], tv=[0, 20, 40], tt=None),
    "5": dict(top=430, bot=549, rng=[0, (549 - 430) / 1.02], tv=[0, 50, 100], tt=None),
    "6": dict(top=300, bot=420, rng=[0, 120 / 14.0], tv=[0, 5], tt=None),
    "7": dict(top=160, bot=292, rng=[0, (292 - 160) / 0.32], tv=[200], tt=["200.00"]),
}
tickfont = dict(size=24, family=FONT, color="black")
for k, p in panels.items():
    xa = dict(domain=XDOM, range=XR, type="date", anchor="y" + k, showline=True, linecolor="black",
              linewidth=2, showgrid=False, zeroline=False, ticks="", showticklabels=False)
    if k == "2":
        xa.update(ticks="outside", ticklen=23, tickwidth=2, tickcolor="black", showticklabels=True,
                  tickmode="array", tickvals=to_dates(day_ticks), tickformat="%-m/%-d/%Y", tickangle=-90,
                  tickfont=tickfont, ticklabelstandoff=8)
    layout["xaxis" + k] = xa
    ya = dict(domain=[py(p["bot"]), py(p["top"])], range=p["rng"], anchor="x" + k,
              showline=(k != "7"), linecolor="black", linewidth=2, ticks="outside", ticklen=23, tickwidth=2,
              tickcolor="black", tickmode="array", tickvals=p["tv"], tickfont=tickfont, showgrid=False,
              zeroline=False, ticklabelstandoff=6)
    if p["tt"]:
        ya["ticktext"] = p["tt"]
    layout["yaxis" + k] = ya
layout["xaxis8"] = dict(domain=XDOM, range=XR, type="date", anchor="y8", showline=True, linecolor="black",
                        linewidth=2, showgrid=False, zeroline=False, ticks="", showticklabels=False)
layout["yaxis8"] = dict(domain=[py(153), py(15)], range=[0, 100], visible=False)

shapes = []
annotations = []
# gases y-axis line (shorter than the data area)
shapes.append(dict(type="line", xref="paper", yref="paper", x0=px(198), x1=px(198), y0=py(292), y1=py(190),
                   line=dict(color="black", width=2), layer="above"))

# panel titles
titles = [("Met Data", 217, 32), ("STANDARD GASES", 465, 195), ("PTRMS", 222, 338), ("PMx", 213, 450),
          ("AMS/BC", 223, 573), ("AMS Tracers", 222, 708), ("CPC", 225, 830)]
for t, x, y in titles:
    annotations.append(dict(text="<b>" + t + "</b>", x=px(x), y=py(y), xref="paper", yref="paper",
                            xanchor="left", yanchor="middle", showarrow=False, bgcolor="white",
                            font=dict(size=28, family=FONT, color="black")))

# y-axis titles
ytitles = [("ppb", 88, 355, 23), ("µg m<sup>-3</sup>", 83, 488, 30), ("µg m<sup>-3</sup>", 52, 612, 23),
           ("ug m<sup>-3</sup>", 80, 742, 22), ("cm<sup>-3</sup>", 82, 902, 29)]
for t, x, y, s in ytitles:
    annotations.append(dict(text=t, x=px(x), y=py(y), xref="paper", yref="paper", xanchor="center",
                            yanchor="middle", textangle=-90, showarrow=False,
                            font=dict(size=s, family=FONT, color="black")))

def add_legend(entries, rows, lx0, lx1, tx, box):
    shapes.append(dict(type="rect", xref="paper", yref="paper", x0=px(box[0]), x1=px(box[2]),
                       y0=py(box[3]), y1=py(box[1]), fillcolor="white", line=dict(width=0), layer="above"))
    for (name, color, kind), y in zip(entries, rows):
        if kind == "dot":
            cx = (lx0 + lx1) / 2.0
            shapes.append(dict(type="circle", xref="paper", yref="paper", x0=px(cx - 3.5), x1=px(cx + 3.5),
                               y0=py(y + 3.5), y1=py(y - 3.5), fillcolor=color, line=dict(width=0),
                               layer="above"))
        else:
            x1 = lx1 + (5 if kind == "long" else 0)
            shapes.append(dict(type="line", xref="paper", yref="paper", x0=px(lx0), x1=px(x1), y0=py(y),
                               y1=py(y), line=dict(color=color, width=4), layer="above"))
        annotations.append(dict(text=name, x=px(tx), y=py(y), xref="paper", yref="paper", xanchor="left",
                                yanchor="middle", showarrow=False, font=dict(size=24, family=FONT, color="black")))

add_legend([("Temperature", C_PINK, "l"), ("RH", C_LBLUE, "l"), ("precipitation", C_NAVY, "l"),
            ("wind speed", C_GREEN, "l"), ("wind direction", C_RED, "dot"), ("pressure", C_GRAY, "l"),
            ("solar radiation", C_ORANGE, "l")],
           [17, 43, 70, 97, 123, 150, 176], 7, 44, 55, (0, 0, 205, 189))
add_legend([("SO2", C_RED, "l"), ("NO", "black", "l"), ("NO2", C_BLUE, "l"), ("O3", C_PINK, "l"),
            ("CO", "#555555", "l")], [183, 210, 235, 263, 288], 308, 353, 363, (303, 168, 415, 302))
add_legend([("toluene", "#0000dd", "l"), ("monoterpenes", C_MONO, "l"), ("acetonitrile", C_RED, "l")],
           [322, 348, 374], 498, 546, 554, (493, 308, 712, 388))
add_legend([("PM1.0", "#008c00", "l"), ("PM2.5", "#0000ff", "l"), ("PM10", C_RED, "l")],
           [458, 484, 510], 320, 365, 373, (315, 443, 455, 525))
add_legend([("BC (MAAP)", "black", "long"), ("Org", C_LIME, "l"), ("NO3", C_BLUE, "l"), ("SO4", C_RED, "l"),
            ("NH4", C_ORANGE, "l"), ("Chl", C_PINK, "l")],
           [554, 582, 609, 635, 662, 688], 422, 467, 483, (417, 540, 619, 700))
add_legend([("BBOA", C_RED, "l"), ("HOA", "black", "l"), ("OOA", C_BLUE, "l")],
           [726, 752, 779], 590, 637, 646, (585, 713, 720, 792))

fig.update_layout(width=W, height=H, margin=dict(l=0, r=0, t=0, b=0, autoexpand=False),
                  paper_bgcolor="white", plot_bgcolor="rgba(0,0,0,0)", showlegend=False,
                  font=dict(family=FONT, color="black"), shapes=shapes, annotations=annotations, **layout)

fig.write_html("out.html")
